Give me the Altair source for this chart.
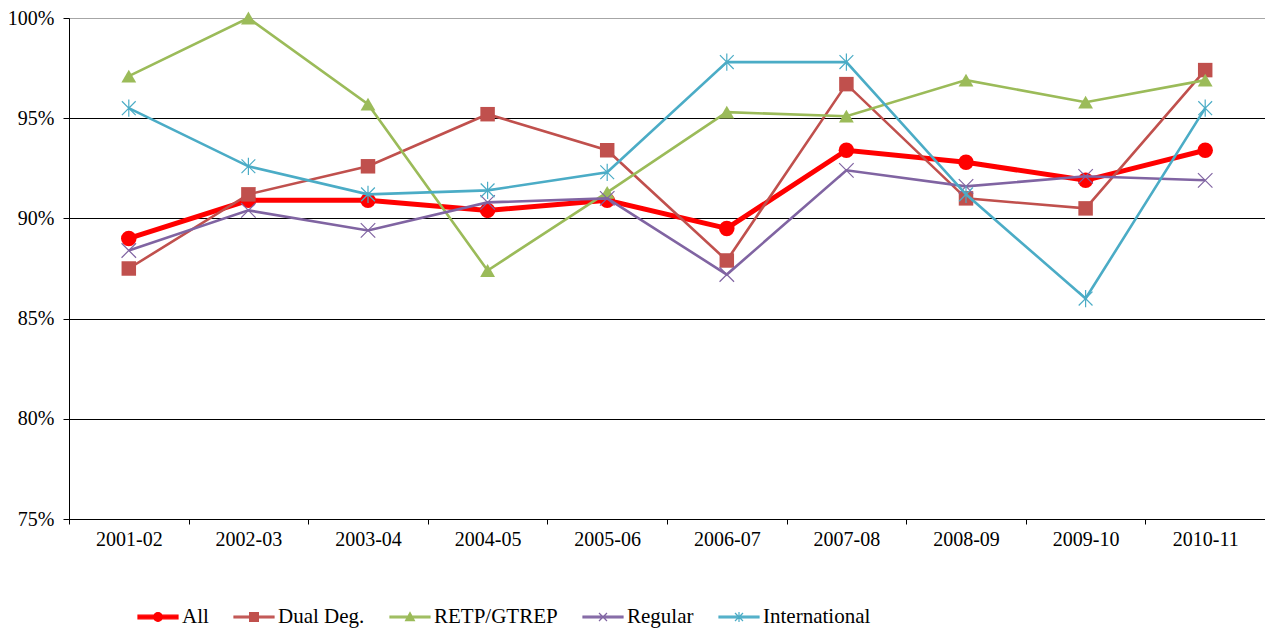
import altair as alt
import pandas as pd

years = ["2001-02", "2002-03", "2003-04", "2004-05", "2005-06",
         "2006-07", "2007-08", "2008-09", "2009-10", "2010-11"]
series_names = ["All", "Dual Deg.", "RETP/GTREP", "Regular", "International"]

all_vals = [0.890, 0.909, 0.909, 0.904, 0.909, 0.895, 0.934, 0.928, 0.919, 0.934]
dual_vals = [0.875, 0.912, 0.926, 0.952, 0.934, 0.879, 0.967, 0.910, 0.905, 0.974]
retp_vals = [0.971, 1.000, 0.957, 0.874, 0.913, 0.953, 0.951, 0.969, 0.958, 0.969]
regular_vals = [0.884, 0.904, 0.894, 0.908, 0.910, 0.872, 0.924, 0.916, 0.921, 0.919]
intl_vals = [0.955, 0.926, 0.912, 0.914, 0.923, 0.978, 0.978, 0.912, 0.860, 0.955]

colors = ["#FF0000", "#C0504D", "#9BBB59", "#8064A2", "#4BACC6"]

values_by_series = [all_vals, dual_vals, retp_vals, regular_vals, intl_vals]
rows = []
for name, vals in zip(series_names, values_by_series):
    for yr, v in zip(years, vals):
        rows.append({"year": yr, "series": name, "value": v})
df = pd.DataFrame(rows)

X_PATH = "M-1,-1L1,1M-1,1L1,-1"
STAR_PATH = "M-1,-1L1,1M-1,1L1,-1M0,-1.25L0,1.25"

# per-series style: (line width, shape, filled, size, stroke width)
styles = [
    (5, "circle", True, 240, 0),
    (2.6, "square", True, 210, 0),
    (2.6, "triangle-up", True, 220, 0),
    (2.6, X_PATH, False, 210, 1.2),
    (2.6, STAR_PATH, False, 190, 1.2),
]

legend_paths = [
    "M-1,-0.09H1V0.09H-1Z M-0.22,0 A0.22,0.22 0 1,1 0.22,0 A0.22,0.22 0 1,1 -0.22,0 Z",
    "M-1,-0.04H1V0.04H-1Z M-0.22,-0.22H0.22V0.22H-0.22Z",
    "M-1,-0.04H1V0.04H-1Z M-0.22,0.18L0,-0.22L0.22,0.18Z",
    "M-1,-0.04H1V0.04H-1Z M-0.2,-0.2L0.2,0.2M-0.2,0.2L0.2,-0.2",
    "M-1,-0.04H1V0.04H-1Z M-0.2,-0.2L0.2,0.2M-0.2,0.2L0.2,-0.2M0,-0.25L0,0.25",
]

FONT = "Liberation Serif"

x_enc = alt.X(
    "year:O",
    sort=years,
    scale=alt.Scale(type="band", paddingInner=0, paddingOuter=0, domain=years),
    axis=alt.Axis(
        title=None, labelAngle=0, labelFont=FONT, labelFontSize=20,
        labelColor="black", domainColor="black", tickColor="black",
        tickSize=5, labelPadding=5, tickBand="extent", grid=False,
    ),
)
y_enc = alt.Y(
    "value:Q",
    scale=alt.Scale(domain=[0.75, 1.0], nice=False, zero=False),
    axis=alt.Axis(
        title=None, values=[0.75, 0.80, 0.85, 0.90, 0.95, 1.00], format=".0%",
        labelFont=FONT, labelFontSize=20, labelColor="black",
        domainColor="black", tickColor="black", tickSize=6, labelPadding=9,
        grid=True,
        gridColor={"condition": {"test": "datum.value >= 0.999", "value": "#A6A6A6"},
                   "value": "black"},
        gridWidth=1,
    ),
)

base = alt.Chart(df)
layers = []
for name, color, (lw, shape, filled, size, sw) in zip(series_names, colors, styles):
    sub = base.transform_filter(alt.datum.series == name)
    layers.append(
        sub.mark_line(color=color, strokeWidth=lw).encode(x=x_enc, y=y_enc)
    )
    if filled:
        pt = sub.mark_point(shape=shape, filled=True, size=size, color=color,
                            opacity=1, strokeWidth=0)
    else:
        pt = sub.mark_point(shape=shape, filled=False, size=size, color=color,
                            opacity=1, strokeWidth=sw)
    layers.append(pt.encode(x=x_enc, y=y_enc))

legend_def = alt.Legend(
    title=None, orient="none", legendX=68, legendY=578, direction="horizontal",
    labelFont=FONT, labelFontSize=21, labelColor="black", labelOffset=3,
    columnPadding=22, symbolSize=1600, symbolStrokeWidth=1.2, symbolOpacity=1,
    columns=5,
)
legend_layer = base.transform_filter("false").mark_point(
    filled=True, size=1600, opacity=1, strokeWidth=1.2
).encode(
    x=x_enc, y=y_enc,
    fill=alt.Fill("series:N", scale=alt.Scale(domain=series_names, range=colors),
                  legend=legend_def),
    stroke=alt.Stroke("series:N", scale=alt.Scale(domain=series_names, range=colors),
                      legend=legend_def),
    shape=alt.Shape("series:N", scale=alt.Scale(domain=series_names, range=legend_paths),
                    legend=legend_def),
)
layers.append(legend_layer)

chart = alt.layer(*layers).properties(
    width=1196, height=501,
    autosize=alt.AutoSizeParams(type="none"),
    padding={"left": 61, "top": 10, "right": 0, "bottom": 111},
).configure_view(stroke="#A6A6A6", strokeWidth=1).configure(background="white")

chart.save("out.html", embed_options={"renderer": "svg", "actions": False})
